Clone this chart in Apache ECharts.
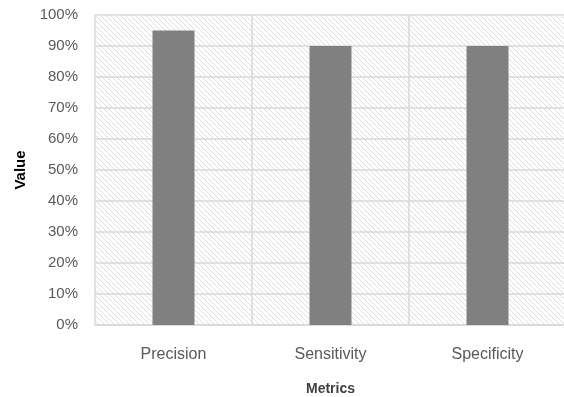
<!DOCTYPE html>
<html>
<head>
<meta charset="utf-8">
<script src="https://cdn.jsdelivr.net/npm/echarts@6/dist/echarts.min.js"></script>
<style>
  html, body { margin: 0; padding: 0; background: #fff; }
  #chart { width: 564px; height: 397px; }
</style>
</head>
<body>
<div id="chart"></div>
<script>
// data
const metrics = ["Precision", "Sensitivity", "Specificity"];
const values = [95, 90, 90];

// diagonal hatch for plot background
const makeHatch = () => {
  const s = 5;
  const c = document.createElement("canvas");
  c.width = s;
  c.height = s;
  const ctx = c.getContext("2d");
  ctx.strokeStyle = "#dedede";
  ctx.lineWidth = 1;
  for (let k = -1; k <= 1; k++) {
    ctx.beginPath();
    ctx.moveTo(k * s - 1, -1);
    ctx.lineTo(k * s + s + 1, s + 1);
    ctx.stroke();
  }
  return c;
};

const myChart = echarts.init(document.getElementById("chart"));
const fontFam = "Liberation Sans, Arial, sans-serif";

const option = {
  animation: false,
  grid: {
    left: 95,
    top: 15,
    width: 471,
    height: 310,
    show: true,
    borderWidth: 0,
    outerBoundsMode: "none",
    backgroundColor: { image: makeHatch(), repeat: "repeat" },
  },
  xAxis: {
    type: "category",
    data: metrics,
    name: "Metrics",
    nameLocation: "middle",
    nameGap: 57,
    nameTextStyle: {
      color: "#404040",
      fontSize: 14,
      fontWeight: "bold",
      fontFamily: fontFam,
    },
    axisLine: { lineStyle: { color: "#d9d9d9", width: 1.5 } },
    axisTick: { show: false },
    axisLabel: {
      color: "#595959",
      fontSize: 16,
      fontFamily: fontFam,
      margin: 22,
    },
    splitLine: { show: true, lineStyle: { color: "#d9d9d9", width: 1.5 } },
  },
  yAxis: {
    type: "value",
    min: 0,
    max: 100,
    interval: 10,
    name: "Value",
    nameLocation: "middle",
    nameGap: 67,
    nameTextStyle: {
      color: "#000",
      fontSize: 15,
      fontWeight: "bold",
      fontFamily: fontFam,
    },
    axisLine: { show: false },
    axisTick: { show: false },
    axisLabel: {
      formatter: "{value}%",
      color: "#595959",
      fontSize: 15,
      fontFamily: fontFam,
      margin: 17,
    },
    splitLine: { lineStyle: { color: "#d9d9d9", width: 1.5 } },
  },
  series: [
    {
      type: "bar",
      data: values,
      barWidth: 42,
      itemStyle: { color: "#808080" },
    },
  ],
};

myChart.setOption(option);
</script>
</body>
</html>
